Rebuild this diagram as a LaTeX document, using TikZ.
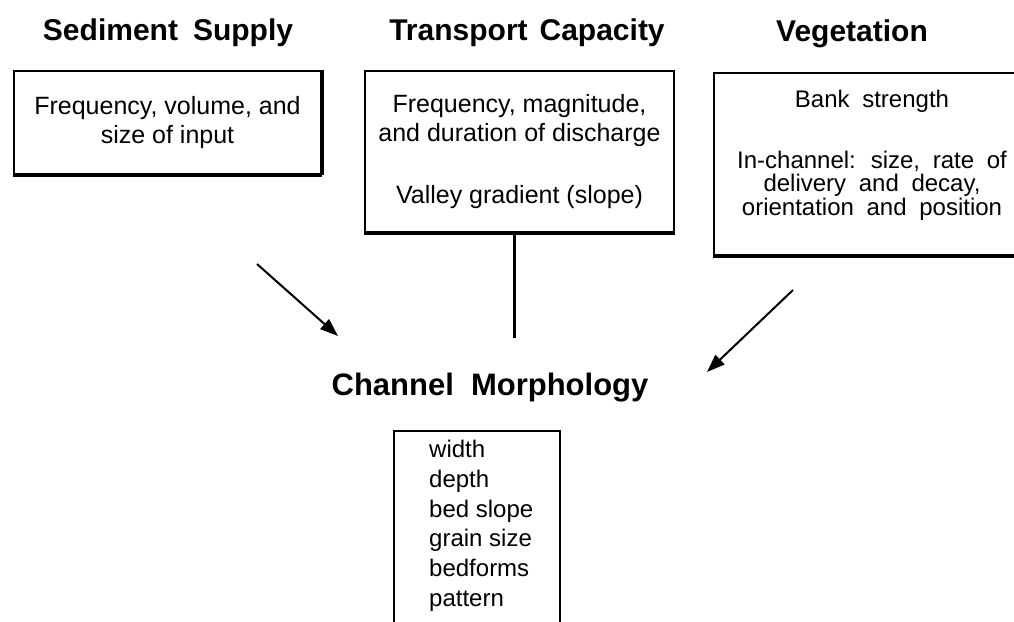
\documentclass[tikz,border=0pt]{standalone}
\usepackage{fontspec}
\setmainfont{Liberation Sans}
\newfontfamily\vegfont[WordSpace=1.9]{Liberation Sans}
\usetikzlibrary{arrows.meta,calc}
\tikzset{
  boxed/.style={draw, line width=2.2pt, inner sep=0pt},
  heavy/.style={line width=4pt},
  ttl/.style={font=\fontsize{30}{34}\selectfont\bfseries, inner sep=0pt},
  body/.style={font=\fontsize{25}{29}\selectfont, align=center, inner sep=0pt},
  vegtext/.style={font=\vegfont\fontsize{24}{23.5}\selectfont, align=center, inner sep=0pt},
  listtext/.style={font=\fontsize{24}{29.8}\selectfont, align=left, inner sep=0pt},
  arr/.style={line width=2pt, -{Triangle[length=18pt,width=13pt]}},
  stem/.style={line width=3pt},
}
\begin{document}
\begin{tikzpicture}[x=1pt,y=-1pt]
\useasboundingbox[fill=white] (0,0) rectangle (1014,621);
% titles
\node[ttl, anchor=base] (tss) at (168,40) {Sediment\hspace{0.5em}Supply};
\node[ttl, anchor=base] (ttc) at (527,40) {Transport\hspace{0.4em}Capacity};
\node[ttl, anchor=base] (tveg) at (852,41) {Vegetation};
\node[ttl, anchor=base, font=\fontsize{31}{35}\selectfont\bfseries] (tcm) at (490,395) {Channel\hspace{0.55em}Morphology};
% boxes
\node[boxed, body, minimum width=307pt, minimum height=103pt] (sed) at (167.5,122.5)
  {Frequency, volume, and\\size of input};
\draw[heavy] (sed.south west) -- (sed.south east);
\draw[line width=3.5pt] (sed.north east) -- (sed.south east);
\node[boxed, body, minimum width=309pt, minimum height=161pt] (tc) at (519.5,151.5)
  {Frequency, magnitude,\\and duration of discharge\\[33pt]Valley gradient (slope)};
\draw[heavy] (tc.south west) -- (tc.south east);
\node[boxed, minimum width=316pt, minimum height=182pt] (veg) at (872,164) {};
\draw[heavy] (veg.south west) -- (veg.south east);
\node[vegtext, anchor=north] (vegt) at (872,90)
  {Bank strength\\[37pt]In-channel: size, rate of\\delivery and decay,\\orientation and position};
\node[boxed, anchor=north west, minimum width=166pt, minimum height=230pt] (chb) at (393,430) {};
\node[listtext, anchor=north west] (chl) at (429,440)
  {width\\depth\\bed slope\\grain size\\bedforms\\pattern};
% connectors
\coordinate (s1) at (257,264);
\coordinate (e1) at (338,336);
\draw[arr] (s1) -- (e1);
\coordinate (v1) at (514,338);
\draw[stem] (v1 |- tc.south) -- (v1);
\coordinate (s3) at (793,290);
\coordinate (e3) at (707,372);
\draw[arr] (s3) -- (e3);
\end{tikzpicture}
\end{document}
